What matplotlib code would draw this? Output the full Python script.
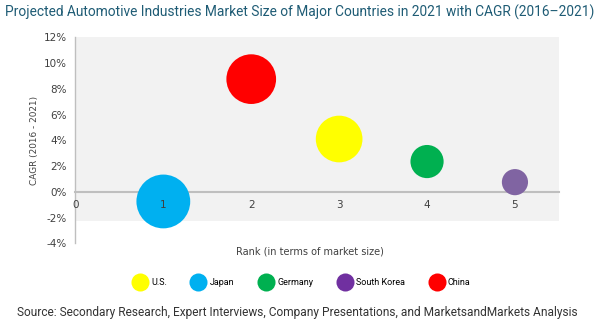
import matplotlib
matplotlib.use("Agg")
import matplotlib.pyplot as plt
from matplotlib.lines import Line2D
from matplotlib.patches import Rectangle

countries = ['U.S.', 'Japan', 'Germany', 'South Korea', 'China']
rank = [3, 1, 4, 5, 2]
cagr = [4.1, -0.75, 2.35, 0.75, 8.75]
bubble_size = [1130, 1500, 570, 355, 1280]
bubble_colors = ['#FFFF00', '#00B0F0', '#00B050', '#8064A2', '#FF0000']
legend_colors = ['#FFFF00', '#00B0F0', '#00B050', '#7030A0', '#FF0000']
yticks = [-4, -2, 0, 2, 4, 6, 8, 10, 12]
xticks = [0, 1, 2, 3, 4, 5]

fig = plt.figure(figsize=(6, 3.28), dpi=100)
ax = fig.add_axes([0.1257, 0.2582, 0.8058, 0.6281])
ax.set_xlim(0, 5.5)
ax.set_ylim(-4, 12)
ax.set_facecolor('none')
ax.add_patch(Rectangle((0, -2.3), 5.5, 14.3, facecolor='#F2F2F2', edgecolor='none', zorder=0))

ax.scatter(rank, cagr, s=bubble_size, c=bubble_colors, edgecolors='none', zorder=3)

for side in ['top', 'right']:
    ax.spines[side].set_visible(False)
ax.spines['bottom'].set_position(('data', 0))
ax.spines['bottom'].set_color('#BFBFBF')
ax.spines['bottom'].set_linewidth(1.5)
ax.spines['bottom'].set_zorder(1)
ax.spines['left'].set_color('#BFBFBF')
ax.spines['left'].set_linewidth(1.0)
ax.spines['left'].set_zorder(1)

ax.set_yticks(yticks)
ax.set_yticklabels([f'{v}%' for v in yticks])
ax.set_xticks(xticks)
ax.set_xticklabels([str(v) for v in xticks])
ax.tick_params(axis='both', length=0, labelsize=7.5, labelcolor='#404040')
ax.tick_params(axis='x', pad=6)
ax.tick_params(axis='y', pad=6)
ax.xaxis.set_zorder(5)

fig.text(0.058, 0.573, 'CAGR (2016 - 2021)', rotation=90, ha='center', va='center',
         fontsize=6.4, color='#404040')
fig.text(0.517, 0.232, 'Rank (in terms of market size)', ha='center', va='center',
         fontsize=7, color='#404040')

handles = [Line2D([], [], marker='o', linestyle='none', markersize=13,
                  markerfacecolor=c, markeredgecolor='none') for c in legend_colors]
fig.legend(handles, countries, loc='center', bbox_to_anchor=(0.503, 0.138), ncol=5,
           frameon=False, handlelength=1.5, handletextpad=0.5, columnspacing=2.75,
           prop={'family': 'Roboto', 'size': 6.5})

fig.text(0.008, 0.963, 'Projected Automotive Industries Market Size of Major Countries in 2021 with CAGR (2016\u20132021)',
         ha='left', va='center', fontsize=9.9, color='#1F5C75', family='Roboto')
fig.text(0.028, 0.046, 'Source: Secondary Research, Expert Interviews, Company Presentations, and MarketsandMarkets Analysis',
         ha='left', va='center', fontsize=8.6, color='#333333', family='Roboto')

fig.savefig('out.png', dpi=100)
